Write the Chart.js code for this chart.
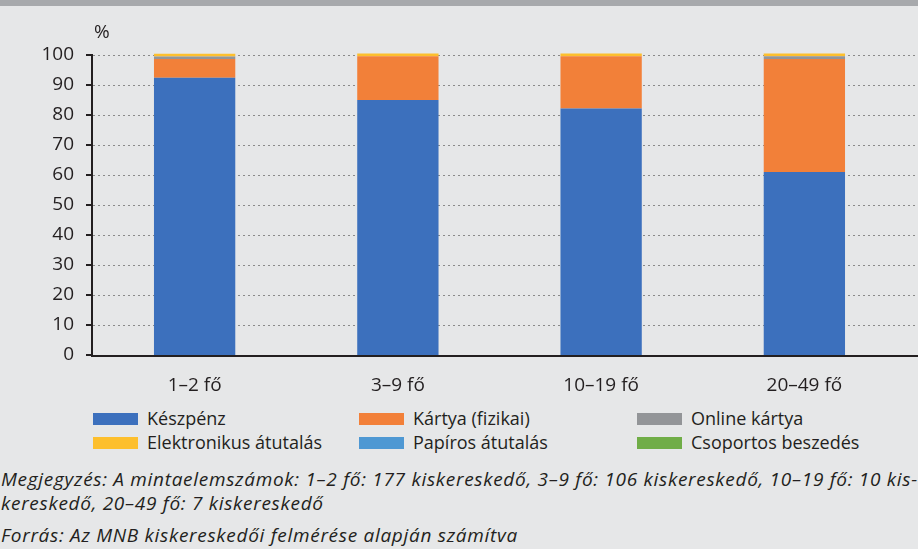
<!DOCTYPE html>
<html>
<head>
<meta charset="utf-8">
<script src="https://cdn.jsdelivr.net/npm/chart.js@4.4.1/dist/chart.umd.min.js"></script>
<style>
  html, body { margin: 0; padding: 0; }
  body {
    width: 918px; height: 549px; overflow: hidden; position: relative;
    background: #e6e7e8; font-family: "Open Sans", Lato, sans-serif; color: #231f20;
  }
  #topbar { position: absolute; left: 0; top: 0; width: 918px; height: 6px; background: #a7a9ac; }
  #chartBox { position: absolute; left: 0; top: 0; width: 918px; height: 400px; }
  #unit { position: absolute; left: 94px; top: 18px; font-size: 19px; }
  #legend { position: absolute; left: 93px; top: 406px; }
  .item { position: absolute; white-space: nowrap; font-size: 18px; line-height: 24px; }
  .item span.box { display: inline-block; width: 45px; height: 12px; vertical-align: middle; margin-right: 9px; position: relative; top: -1px; }
  #notes { position: absolute; left: 1px; top: 467px; width: 917px; font-style: italic; font-size: 19px; letter-spacing: 0.7px; line-height: 24px; white-space: nowrap; overflow: hidden; }
</style>
</head>
<body>
<div id="topbar"></div>
<div id="chartBox"><canvas id="chart"></canvas></div>
<div id="unit">%</div>
<div id="legend"></div>
<div id="notes">
  <div>Megjegyzés: A mintaelemszámok: 1–2 fő: 177 kiskereskedő, 3–9 fő: 106 kiskereskedő, 10–19 fő: 10 kis-</div>
  <div>kereskedő, 20–49 fő: 7 kiskereskedő</div>
  <div style="margin-top:8px">Forrás: Az MNB kiskereskedői felmérése alapján számítva</div>
</div>
<script>
// Categories and series (percent share)
const categories = ['1–2 fő', '3–9 fő', '10–19 fő', '20–49 fő'];
const seriesNames = ['Készpénz', 'Kártya (fizikai)', 'Online kártya', 'Elektronikus átutalás', 'Papíros átutalás', 'Csoportos beszedés'];
const keszpenz = [92.4, 85.0, 82.2, 61.0];
const kartya = [6.3, 14.6, 17.4, 37.7];
const onlineKartya = [0.8, 0.0, 0.0, 0.9];
const elektronikus = [0.9, 0.9, 0.9, 0.9];
const papiros = [0.0, 0.0, 0.0, 0.0];
const csoportos = [0.0, 0.0, 0.0, 0.0];
const yTicks = [0, 10, 20, 30, 40, 50, 60, 70, 80, 90, 100];

const colors = ['#3c70bd', '#f28039', '#939598', '#fdbf2d', '#4e98d3', '#70ad47'];
const values = [keszpenz, kartya, onlineKartya, elektronikus, papiros, csoportos];

// dotted grid lines, axis lines and tick marks
const axisPlugin = {
    id: 'axisPlugin',
    beforeDatasetsDraw(c) {
        const g = c.ctx, a = c.chartArea, y = c.scales.y;
        g.save();
        g.strokeStyle = '#8a8a8a';
        g.lineWidth = 1;
        g.setLineDash([2, 3]);
        yTicks.forEach(v => {
            if (v === 0) return;
            const py = Math.round(y.getPixelForValue(v)) + 0.5;
            g.beginPath();
            g.moveTo(a.left, py);
            g.lineTo(c.width, py);
            g.stroke();
        });
        g.restore();
    },
    afterDatasetsDraw(c) {
        const g = c.ctx, a = c.chartArea, y = c.scales.y;
        g.save();
        g.strokeStyle = '#231f20';
        g.lineWidth = 2;
        g.beginPath();
        g.moveTo(a.left - 1, a.top - 1);
        g.lineTo(a.left - 1, a.bottom + 1);
        g.moveTo(a.left - 2, a.bottom + 1);
        g.lineTo(c.width, a.bottom + 1);
        yTicks.forEach(v => {
            const py = Math.round(y.getPixelForValue(v));
            g.moveTo(a.left - 7, py);
            g.lineTo(a.left - 1, py);
        });
        g.stroke();
        g.restore();
    },
};

const ctx = document.getElementById('chart').getContext('2d');
const chart = new Chart(ctx, {
    type: 'bar',
    data: {
        labels: categories,
        datasets: seriesNames.map((name, i) => ({
            label: name,
            data: values[i],
            backgroundColor: colors[i],
            borderWidth: 0,
            barPercentage: 0.4,
            categoryPercentage: 1.0,
            clip: false,
        })),
    },
    options: {
        responsive: true,
        maintainAspectRatio: false,
        animation: false,
        layout: { padding: { top: 55, right: 12, left: 0, bottom: 0 } },
        plugins: { legend: { display: false }, tooltip: { enabled: false } },
        scales: {
            x: {
                stacked: true,
                grid: { display: false },
                border: { display: false },
                ticks: { color: '#231f20', font: { family: 'Open Sans', size: 19 }, padding: 11 },
                afterFit: (s) => { s.height = 45; },
            },
            y: {
                stacked: true,
                min: 0,
                max: 100,
                afterBuildTicks: (s) => { s.ticks = yTicks.map(v => ({ value: v })); },
                afterFit: (s) => { s.width = 93; },
                grid: { display: false },
                border: { display: false },
                ticks: { color: '#231f20', font: { family: 'Open Sans', size: 19 }, padding: 11 },
            },
        },
    },
    plugins: [axisPlugin],
});

// legend in three columns
const legendEl = document.getElementById('legend');
const colX = [0, 266, 544];
seriesNames.forEach((name, i) => {
    const item = document.createElement('div');
    item.className = 'item';
    item.style.left = colX[i % 3] + 'px';
    item.style.top = (Math.floor(i / 3) * 24) + 'px';
    item.innerHTML = '<span class="box" style="background:' + colors[i] + '"></span>' + name;
    legendEl.appendChild(item);
});
</script>
</body>
</html>
